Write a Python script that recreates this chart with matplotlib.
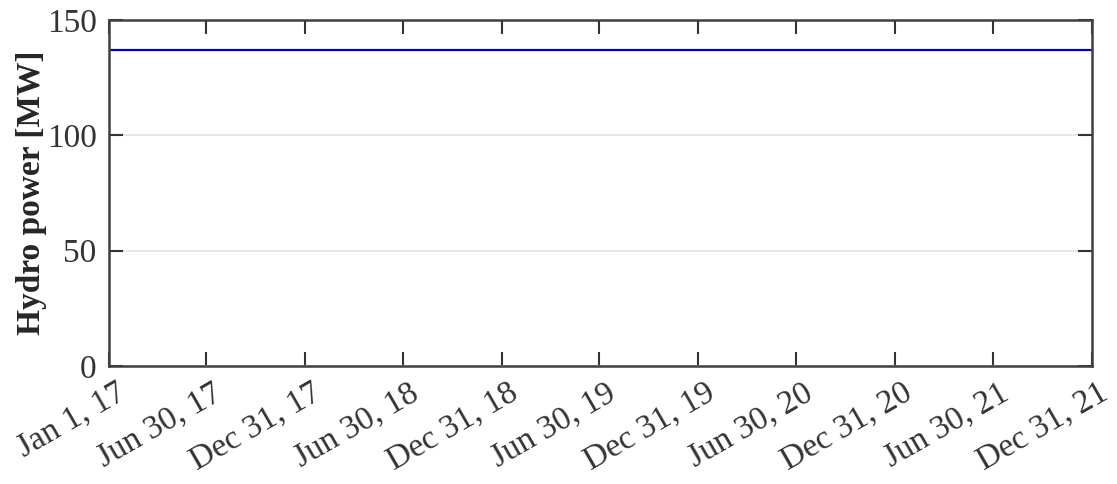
import matplotlib
matplotlib.use('Agg')
import matplotlib.pyplot as plt
import matplotlib.transforms as mtransforms
import numpy as np
from datetime import datetime

tick_dates = ['2017-01-01', '2017-06-30', '2017-12-31', '2018-06-30', '2018-12-31',
              '2019-06-30', '2019-12-31', '2020-06-30', '2020-12-31', '2021-06-30',
              '2021-12-31']
tick_labels = ['Jan 1, 17', 'Jun 30, 17', 'Dec 31, 17', 'Jun 30, 18', 'Dec 31, 18',
               'Jun 30, 19', 'Dec 31, 19', 'Jun 30, 20', 'Dec 31, 20', 'Jun 30, 21',
               'Dec 31, 21']
series_dates = ['2017-01-01', '2021-12-31']
hydro_power = [137, 137]

plt.rcParams['font.family'] = ['Liberation Serif', 'DejaVu Serif']

fig = plt.figure(figsize=(11.17, 4.84), dpi=100)
ax = fig.add_axes([0.0976, 0.2438, 0.88, 0.7149])

x_ticks = [datetime.strptime(d, '%Y-%m-%d') for d in tick_dates]
x_series = [datetime.strptime(d, '%Y-%m-%d') for d in series_dates]

ax.plot(x_series, hydro_power, color='#0000cc', linewidth=1.6)

ax.set_xlim(x_ticks[0], x_ticks[-1])
ax.set_ylim(0, 150)
ax.set_yticks([0, 50, 100, 150])
ax.set_xticks(x_ticks)
ax.set_xticklabels(tick_labels, rotation=30, ha='right', rotation_mode='anchor')

ax.grid(axis='y', color='#e3e3e3', linewidth=1.2)
ax.set_axisbelow(True)

ax.tick_params(direction='in', length=10, width=1.5, colors='#333333',
               labelsize=24, top=True, right=True, pad=9)
ax.tick_params(axis='x', pad=8)
for s in ax.spines.values():
    s.set_color('#404040')
    s.set_linewidth(1.8)

# nudge rotated x labels a bit to the right, like the original
offset = mtransforms.ScaledTranslation(0.06, 0, fig.dpi_scale_trans)
for lab in ax.get_xticklabels():
    lab.set_transform(lab.get_transform() + offset)

ax.set_ylabel('Hydro power [MW]', fontsize=24, fontweight='bold', color='#262626', labelpad=0)

fig.savefig('out.png', dpi=100)
